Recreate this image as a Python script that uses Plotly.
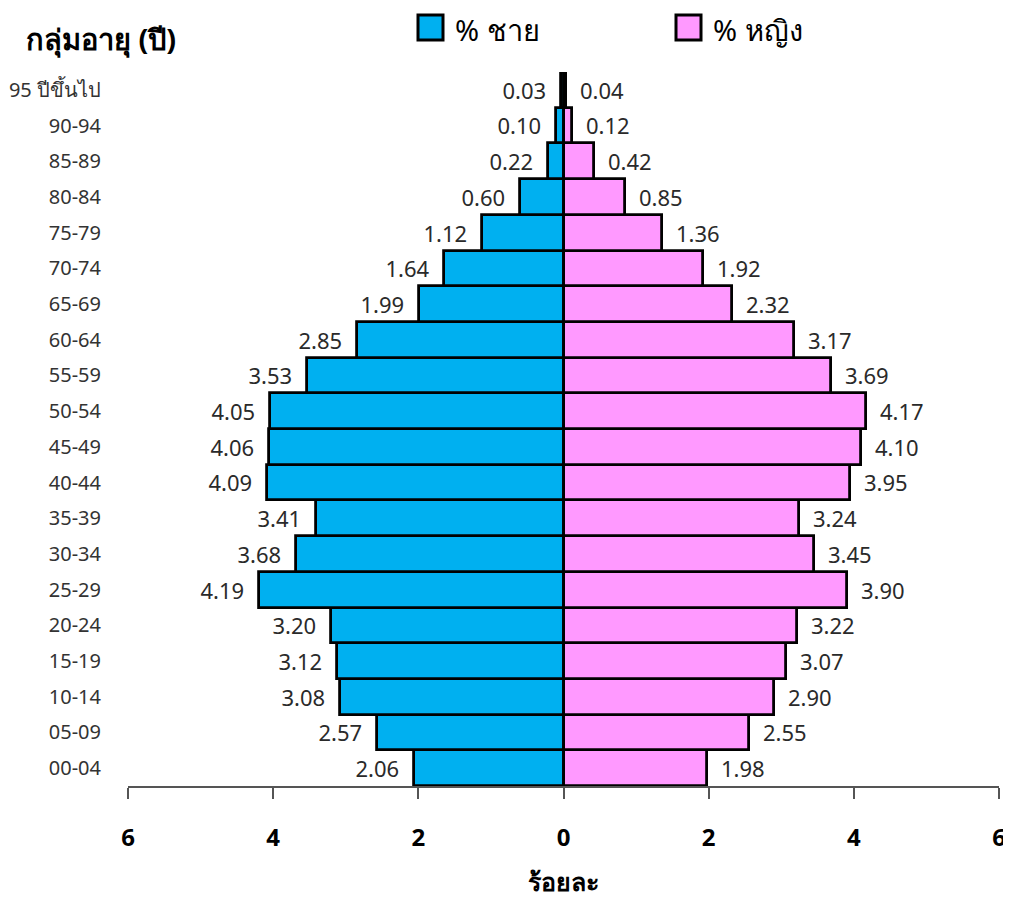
import plotly.graph_objects as go

age_groups = ["00-04", "05-09", "10-14", "15-19", "20-24", "25-29", "30-34", "35-39",
              "40-44", "45-49", "50-54", "55-59", "60-64", "65-69", "70-74", "75-79",
              "80-84", "85-89", "90-94", "95 ปีขึ้นไป"]
male = [2.06, 2.57, 3.08, 3.12, 3.20, 4.19, 3.68, 3.41, 4.09, 4.06,
        4.05, 3.53, 2.85, 1.99, 1.64, 1.12, 0.60, 0.22, 0.10, 0.03]
female = [1.98, 2.55, 2.90, 3.07, 3.22, 3.90, 3.45, 3.24, 3.95, 4.10,
          4.17, 3.69, 3.17, 2.32, 1.92, 1.36, 0.85, 0.42, 0.12, 0.04]
x_ticks = [-6, -4, -2, 0, 2, 4, 6]
x_tick_text = ["6", "4", "2", "0", "2", "4", "6"]
series_names = ["% ชาย", "% หญิง"]
colors = ["#00B0F0", "#FF99FF"]

FONT = "Noto Sans, sans-serif"
NB = "\u00a0\u00a0"

# figure is drawn at an 8px body offset; plot area in figure coords
W, H = 1003, 890
L, T, PW, PH = 120, 64, 871, 714


def px(fx):
    return (fx - L) / PW


def py(fy):
    return (T + PH - fy) / PH


fig = go.Figure()
fig.add_trace(go.Bar(
    y=age_groups, x=[-v for v in male], orientation="h", name=series_names[0],
    marker=dict(color=colors[0], line=dict(color="black", width=2.8)),
    text=[f"{v:.2f}{NB}" for v in male], textposition="outside", constraintext="none",
    textfont=dict(size=22, color="#2a2a2a", family=FONT),
    cliponaxis=False, showlegend=False,
))
fig.add_trace(go.Bar(
    y=age_groups, x=female, orientation="h", name=series_names[1],
    marker=dict(color=colors[1], line=dict(color="black", width=2.8)),
    text=[f"{NB}{v:.2f}" for v in female], textposition="outside", constraintext="none",
    textfont=dict(size=22, color="#2a2a2a", family=FONT),
    cliponaxis=False, showlegend=False,
))

fig.update_layout(
    width=W, height=H,
    margin=dict(l=L, r=W - L - PW, t=T, b=H - T - PH),
    barmode="overlay", bargap=0,
    plot_bgcolor="white", paper_bgcolor="white",
    font=dict(family=FONT, color="#222222"),
    xaxis=dict(range=[-6, 6], tickvals=x_ticks, ticktext=x_tick_text,
               showgrid=False, zeroline=False, showline=True, linecolor="#555555",
               linewidth=1.5, ticks="outside", ticklen=11, tickwidth=1.5,
               tickcolor="#555555", ticklabelstandoff=18, automargin=False,
               tickfont=dict(size=24, color="black", family=FONT, weight="bold"),
               title=dict(text="<b>ร้อยละ</b>", font=dict(size=25, color="black"), standoff=25)),
    yaxis=dict(type="category", categoryorder="array", categoryarray=age_groups,
               range=[-0.5, 19.5], showgrid=False, zeroline=False, showline=False,
               ticks="", ticklabelstandoff=26, automargin=False,
               tickfont=dict(size=20, color="#333333", family=FONT)),
)

# title for y axis (top-left)
fig.add_annotation(text="<b>กลุ่มอายุ (ปี)</b>", xref="paper", yref="paper",
                   x=px(16), y=py(31), xanchor="left", yanchor="middle",
                   showarrow=False, font=dict(size=29, color="black", family=FONT))

# legend: squares + labels
legend_items = [(410, series_names[0], colors[0]), (668, series_names[1], colors[1])]
for sx, name, col in legend_items:
    fig.add_shape(type="rect", xref="paper", yref="paper",
                  x0=px(sx), x1=px(sx + 25), y0=py(32), y1=py(7),
                  fillcolor=col, line=dict(color="black", width=3))
    fig.add_annotation(text=name, xref="paper", yref="paper",
                       x=px(sx + 35), y=py(22),
                       xanchor="left", yanchor="middle", showarrow=False,
                       font=dict(size=29, color="black", family=FONT))

fig.write_html("out.html")
